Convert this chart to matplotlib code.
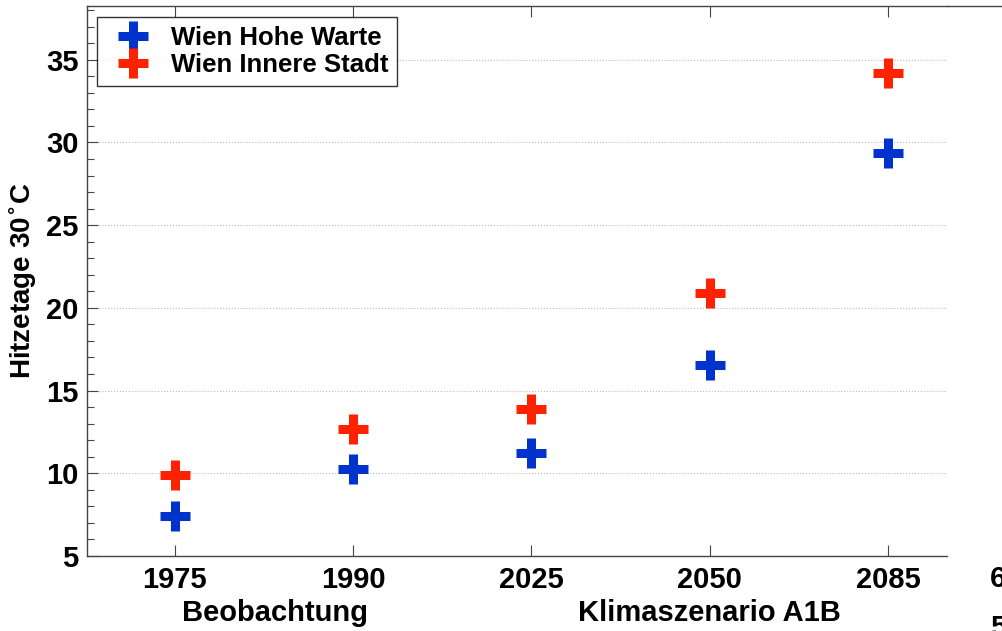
import matplotlib
matplotlib.use("Agg")
import matplotlib.pyplot as plt
from matplotlib.ticker import MultipleLocator
from matplotlib.lines import Line2D

plt.rcParams['font.family'] = ['Liberation Sans', 'DejaVu Sans']
plt.rcParams['font.weight'] = 'bold'
plt.rcParams['mathtext.default'] = 'bf'

# ======== DATOS ========
years = ['1975', '1990', '2025', '2050', '2085']
hohe_warte = [7.4, 10.25, 11.2, 16.55, 29.35]
innere_stadt = [9.9, 12.65, 13.9, 20.9, 34.2]
groups = ['Beobachtung', 'Klimaszenario A1B']
group_pos = [1.56, 4.0]

BLUE = '#0033cc'
RED = '#ff2200'

fig = plt.figure(figsize=(10.02, 6.31), dpi=100)
ax = fig.add_axes([0.0868, 0.1189, 0.8582, 0.8716])

x = list(range(1, len(years) + 1))
ax.plot(x, hohe_warte, linestyle='none', marker='+', ms=22, mew=6.5,
        color=BLUE, label='Wien Hohe Warte')
ax.plot(x, innere_stadt, linestyle='none', marker='+', ms=22, mew=6.5,
        color=RED, label='Wien Innere Stadt')

ax.set_xlim(0.507, 5.33)
ax.set_ylim(5, 38.25)
ax.set_xticks(x)
ax.set_xticklabels(years)
ax.yaxis.set_major_locator(MultipleLocator(5))
ax.yaxis.set_minor_locator(MultipleLocator(1))
ax.grid(axis='y', which='major', linestyle=':', color='#bbbbbb', lw=0.8)
ax.set_axisbelow(True)

ax.tick_params(axis='both', which='major', direction='in', length=8,
               labelsize=21, top=True, width=0.8, color='#444444', pad=7)
ax.tick_params(axis='y', which='minor', direction='in', length=5,
               width=0.8, color='#444444')
ax.tick_params(axis='x', which='minor', bottom=False, top=False)
for lbl in ax.get_xticklabels() + ax.get_yticklabels():
    lbl.set_fontweight('bold')
ax.tick_params(axis='y', pad=6)

ax.spines['right'].set_visible(False)
for s in ['left', 'bottom', 'top']:
    ax.spines[s].set_color('#444444')
    ax.spines[s].set_linewidth(1.0)

# linea superior que continua a la derecha (recorte del original)
fig.add_artist(Line2D([0.945, 1.0], [0.9905, 0.9905], color='#444444', lw=1.0))

ax.set_ylabel('Hitzetage 30$^{\\circ}$C', fontsize=20, fontweight='bold', labelpad=6)

for name, pos in zip(groups, group_pos):
    ax.text(pos, -0.103, name, transform=ax.get_xaxis_transform(),
            ha='center', va='center', fontsize=21, fontweight='bold')

# restos de otra grafica a la derecha
fig.text(0.988, 0.083, '6', fontsize=21, fontweight='bold', va='center', ha='left')
fig.text(0.988, 0.005, '5', fontsize=21, fontweight='bold', va='center', ha='left')

leg = ax.legend(loc='upper left', bbox_to_anchor=(0.0117, 0.98), fontsize=18.5,
                frameon=True, fancybox=False, edgecolor='black', borderpad=0.35,
                handlelength=2.1, handletextpad=0.42, labelspacing=0.12,
                borderaxespad=0, markerscale=1.0)
leg.get_frame().set_linewidth(1.0)
for t in leg.get_texts():
    t.set_fontweight('bold')

fig.savefig('out.png', dpi=100)
